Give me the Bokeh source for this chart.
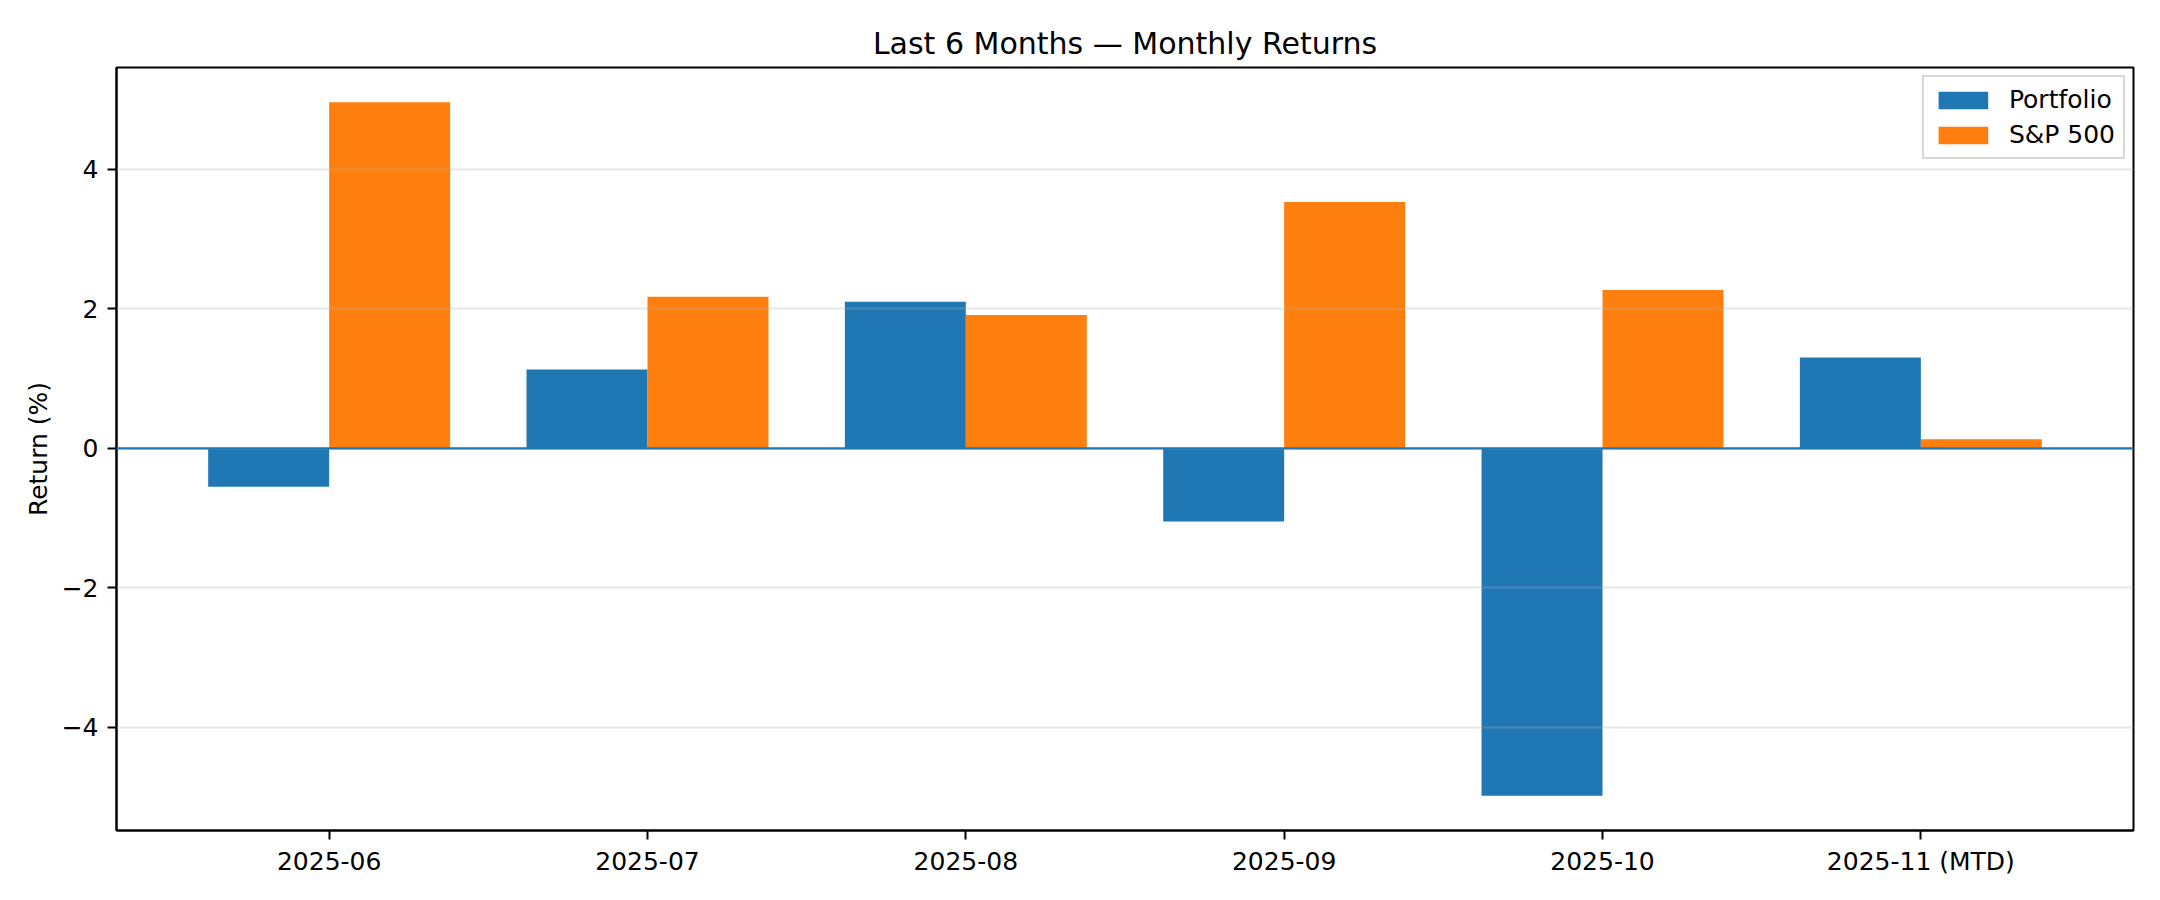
from bokeh.plotting import figure
from bokeh.models import ColumnDataSource, FactorRange, FixedTicker, Span, Legend, LegendItem
from bokeh.transform import dodge
from bokeh.embed import file_html
from bokeh.resources import INLINE

months = ["2025-06", "2025-07", "2025-08", "2025-09", "2025-10", "2025-11 (MTD)"]
portfolio = [-0.55, 1.13, 2.10, -1.05, -4.98, 1.30]
sp500 = [4.96, 2.17, 1.91, 3.53, 2.27, 0.13]
y_ticks = [-4, -2, 0, 2, 4]
y_tick_labels = ["\u22124", "\u22122", "0", "2", "4"]
series_names = ["Portfolio", "S&P 500"]
colors = ["#1f77b4", "#ff7f0e"]

FONT = "DejaVu Sans"

src = ColumnDataSource(dict(month=months, portfolio=portfolio, sp500=sp500))

p = figure(
    width=2144, height=884,
    x_range=FactorRange(factors=months, range_padding=0.056, range_padding_units="percent"),
    y_range=(-5.477, 5.457),
    output_backend="svg", toolbar_location=None,
    min_border_left=116, min_border_right=11, min_border_top=67, min_border_bottom=54,
    background_fill_color="white", border_fill_color="white",
)

r1 = p.vbar(x=dodge("month", -0.19, range=p.x_range), top="portfolio", width=0.38,
            source=src, fill_color=colors[0], line_color=None)
r2 = p.vbar(x=dodge("month", 0.19, range=p.x_range), top="sp500", width=0.38,
            source=src, fill_color=colors[1], line_color=None)

zero = Span(location=0, dimension="width", line_color=colors[0], line_width=2.3)
p.add_layout(zero)

# title
p.title.text = "Last 6 Months \u2014 Monthly Returns"
p.title.align = "center"
p.title.text_font = FONT
p.title.text_font_size = "30px"
p.title.text_font_style = "normal"
p.title.text_color = "black"
p.title.standoff = 13

# outline
p.outline_line_color = "black"
p.outline_line_width = 2
p.outline_line_alpha = 1

# grids
p.xgrid.grid_line_color = None
p.ygrid.ticker = FixedTicker(ticks=y_ticks)
p.ygrid.grid_line_color = "#b0b0b0"
p.ygrid.grid_line_alpha = 0.3
p.ygrid.grid_line_width = 2
p.ygrid.level = "guide"

# axes
for ax in (p.xaxis[0], p.yaxis[0]):
    ax.axis_line_color = "black"
    ax.axis_line_width = 2
    ax.major_tick_line_color = "black"
    ax.major_tick_line_width = 2
    ax.major_tick_out = 9
    ax.major_tick_in = 0
    ax.minor_tick_line_color = None
    ax.major_label_text_font = FONT
    ax.major_label_text_font_size = "25px"
    ax.major_label_text_color = "black"
    ax.axis_label_text_font = FONT
    ax.axis_label_text_font_size = "25px"
    ax.axis_label_text_font_style = "normal"
    ax.axis_label_text_color = "black"

p.xaxis.major_label_standoff = 7
p.xaxis.group_text_font_size = "0px"

p.yaxis.ticker = FixedTicker(ticks=y_ticks)
p.yaxis.major_label_overrides = {t: l for t, l in zip(y_ticks, y_tick_labels)}
p.yaxis.major_label_standoff = 9
p.yaxis.axis_label = "Return (%)"
p.yaxis.axis_label_standoff = 6

# legend
legend = Legend(items=[LegendItem(label=series_names[0], renderers=[r1]),
                       LegendItem(label=series_names[1], renderers=[r2])],
                location="top_right")
legend.margin = 8
legend.padding = 8
legend.spacing = 6
legend.glyph_width = 62
legend.glyph_height = 22
legend.label_standoff = 15
legend.label_text_font = FONT
legend.label_text_font_size = "25px"
legend.label_text_color = "black"
legend.border_line_color = "#cccccc"
legend.border_line_width = 2
legend.border_line_alpha = 0.8
legend.background_fill_alpha = 0.8
p.add_layout(legend)

open("out.html", "w").write(file_html(p, INLINE))
